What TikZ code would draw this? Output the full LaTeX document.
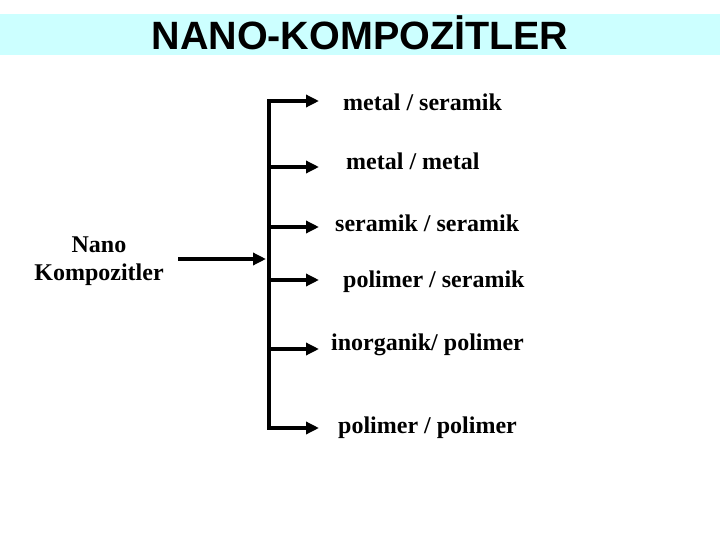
\documentclass[tikz,border=0pt]{standalone}
\usepackage{fontspec}
\setmainfont{Liberation Serif}
\newfontfamily\arialf{Liberation Sans}
\usetikzlibrary{arrows.meta}
\definecolor{band}{HTML}{CCFFFF}
\tikzset{
  lbl/.style={anchor=base west, inner sep=0pt, font=\fontsize{24}{28}\selectfont\bfseries},
  lblc/.style={anchor=base, inner sep=0pt, font=\fontsize{24}{28}\selectfont\bfseries},
  conn/.style={line width=4pt, line join=miter},
  tip/.style={-{Triangle[length=13pt,width=12pt]}},
}
\begin{document}
\begin{tikzpicture}[x=1pt,y=-1pt]
\useasboundingbox (0,0) rectangle (720,540);
\fill[band] (0,14) rectangle (720,55);
\node[anchor=base, inner sep=0pt, font=\arialf\bfseries\fontsize{39.5}{44}\selectfont] (title) at (360,50) {NANO-KOMPOZİTLER};

\node[lblc] (nano1) at (99,252) {Nano};
\node[lblc] (nano2) at (99,280) {Kompozitler};

\node[lbl] (t1) at (343,111) {metal / seramik};
\node[lbl] (t2) at (346,170) {metal / metal};
\node[lbl] (t3) at (335,231) {seramik / seramik};
\node[lbl] (t4) at (343,287) {polimer / seramik};
\node[lbl] (t5) at (331,350) {inorganik/ polimer};
\node[lbl] (t6) at (338,433) {polimer / polimer};

\coordinate (in0) at (178,259);
\coordinate (in1) at (266,259);
\foreach \i/\y in {1/101,2/167,3/227,4/280,5/349,6/428} {
  \coordinate (j\i) at (269,\y);
  \coordinate (e\i) at (319,\y);
}
\draw[conn, {Triangle[length=13pt,width=12pt]}-{Triangle[length=13pt,width=12pt]}] (e1) -- (j1) -- (j6) -- (e6);
\foreach \i in {2,3,4,5} \draw[conn, tip] (j\i) -- (e\i);
\draw[conn, tip] (in0) -- (in1);
\end{tikzpicture}
\end{document}
